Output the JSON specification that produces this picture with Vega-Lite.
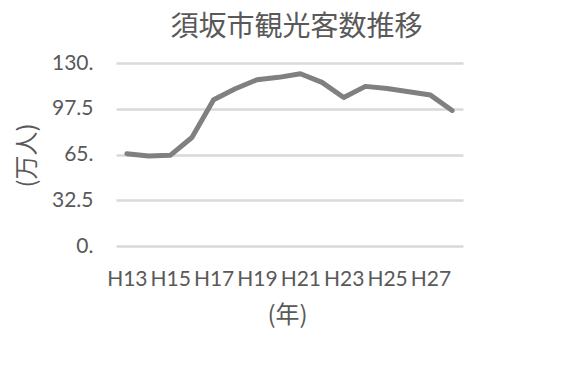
{
  "$schema": "https://vega.github.io/schema/vega-lite/v6.json",
  "autosize": {"type": "none"},
  "width": 347,
  "height": 183,
  "padding": {"left": 116, "top": 63, "right": 100, "bottom": 143},
  "background": "white",
  "title": {
    "text": "須坂市観光客数推移",
    "font": "Noto Sans CJK JP",
    "fontSize": 28,
    "fontWeight": "normal",
    "color": "#595959",
    "anchor": "middle",
    "dx": 7,
    "offset": 10
  },
  "data": {
    "values": [
      {"year": "H13", "visitors": 65.6},
      {"year": "H14", "visitors": 63.9},
      {"year": "H15", "visitors": 64.4},
      {"year": "H16", "visitors": 77.1},
      {"year": "H17", "visitors": 103.9},
      {"year": "H18", "visitors": 111.7},
      {"year": "H19", "visitors": 118.1},
      {"year": "H20", "visitors": 119.8},
      {"year": "H21", "visitors": 122.4},
      {"year": "H22", "visitors": 116.2},
      {"year": "H23", "visitors": 105.5},
      {"year": "H24", "visitors": 113.4},
      {"year": "H25", "visitors": 111.9},
      {"year": "H26", "visitors": 109.6},
      {"year": "H27", "visitors": 107.2},
      {"year": "H28", "visitors": 96.3}
    ]
  },
  "mark": {"type": "line", "color": "#808080", "strokeWidth": 5, "strokeCap": "round", "strokeJoin": "round"},
  "encoding": {
    "x": {
      "field": "year",
      "type": "ordinal",
      "sort": null,
      "scale": {"type": "point", "padding": 0.5},
      "axis": {
        "values": ["H13", "H15", "H17", "H19", "H21", "H23", "H25", "H27"],
        "labelAngle": 0,
        "labelFont": "Lato",
        "labelFontSize": 21,
        "labelColor": "#595959",
        "labelPadding": 22,
        "ticks": false,
        "domain": false,
        "grid": false,
        "title": "(年)",
        "titleFont": "Noto Sans CJK JP",
        "titleFontSize": 24,
        "titleFontWeight": "normal",
        "titleColor": "#595959",
        "titleX": 171,
        "titleY": 57
      }
    },
    "y": {
      "field": "visitors",
      "type": "quantitative",
      "scale": {"domain": [0, 130], "nice": false, "zero": true},
      "axis": {
        "values": [0, 32.5, 65, 97.5, 130],
        "labelExpr": "datum.value % 1 == 0 ? datum.value + '.' : '' + datum.value",
        "labelFont": "Lato",
        "labelFontSize": 21,
        "labelColor": "#595959",
        "labelPadding": 23,
        "ticks": false,
        "domain": false,
        "grid": true,
        "gridColor": "#d9d9d9",
        "gridWidth": 2.5,
        "title": "(万人)",
        "titleFont": "Noto Sans CJK JP",
        "titleFontSize": 24,
        "titleFontWeight": "normal",
        "titleColor": "#595959",
        "titleX": -77,
        "titleY": 92
      }
    }
  },
  "config": {
    "view": {"stroke": null}
  }
}
